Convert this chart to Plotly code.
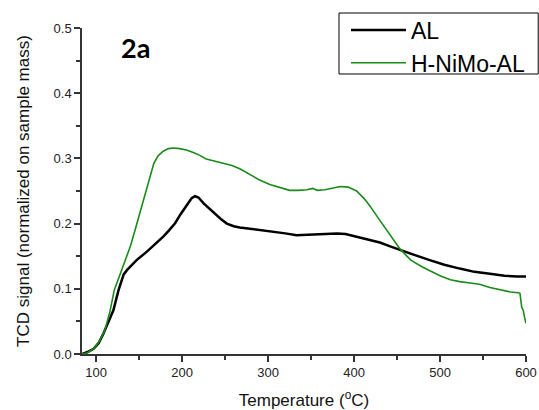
import plotly.graph_objects as go

# ---- data ----
al_temp = [84, 90, 97, 103, 108, 114, 120, 126, 129, 132, 136, 147, 159, 170, 178, 185, 192, 198,
           205, 211, 215, 219, 225, 236, 245, 252, 260, 267, 285, 302, 320, 333, 350, 365, 380,
           390, 400, 418, 430, 442, 454, 470, 488, 505, 523, 540, 558, 575, 590, 600]
al_signal = [0.0, 0.003, 0.008, 0.017, 0.030, 0.048, 0.067, 0.098, 0.112, 0.122, 0.129, 0.144,
             0.157, 0.170, 0.180, 0.190, 0.201, 0.214, 0.228, 0.239, 0.242, 0.240, 0.231, 0.217,
             0.207, 0.200, 0.196, 0.194, 0.191, 0.189, 0.185, 0.182, 0.183, 0.184, 0.185, 0.184,
             0.181, 0.175, 0.171, 0.165, 0.159, 0.152, 0.144, 0.137, 0.131, 0.126, 0.123, 0.120,
             0.119, 0.119]

nimo_temp = [84, 90, 97, 104, 110, 116, 121, 128, 134, 140, 145, 151, 157, 163, 167, 172, 178,
             184, 190, 197, 205, 213, 220, 228, 238, 248, 258, 267, 279, 290, 302, 313, 325, 335,
             345, 352, 357, 366, 375, 384, 393, 403, 412, 419, 430, 442, 453, 460, 466, 480, 490,
             500, 512, 523, 535, 546, 558, 570, 582, 591, 593, 595, 597, 598, 600]
nimo_signal = [0.0, 0.002, 0.008, 0.020, 0.036, 0.065, 0.098, 0.124, 0.143, 0.166, 0.189, 0.216,
               0.245, 0.273, 0.292, 0.304, 0.311, 0.315, 0.316, 0.315, 0.313, 0.309, 0.305, 0.299,
               0.296, 0.292, 0.289, 0.284, 0.275, 0.267, 0.260, 0.256, 0.251, 0.251, 0.252, 0.254,
               0.251, 0.252, 0.255, 0.257, 0.256, 0.250, 0.238, 0.226, 0.205, 0.183, 0.162, 0.152,
               0.144, 0.133, 0.126, 0.120, 0.114, 0.111, 0.109, 0.107, 0.102, 0.098, 0.095, 0.094,
               0.093, 0.072, 0.066, 0.058, 0.047]

series_names = ["AL", "H-NiMo-AL"]
panel_label = "2a"
x_ticks = [100, 200, 300, 400, 500, 600]
y_ticks = [0.0, 0.1, 0.2, 0.3, 0.4, 0.5]

FONT = "Liberation Sans, Arial, sans-serif"
AX = "#333333"

fig = go.Figure()
fig.add_trace(go.Scatter(x=al_temp, y=al_signal, mode="lines", name=series_names[0],
                         line=dict(color="#000000", width=2.5)))
fig.add_trace(go.Scatter(x=nimo_temp, y=nimo_signal, mode="lines", name=series_names[1],
                         line=dict(color="#1a8a1a", width=1.6)))

axis_common = dict(showline=True, linecolor=AX, linewidth=1.5, ticks="outside", ticklen=6,
                   tickwidth=1.5, tickcolor=AX, showgrid=False, zeroline=False, mirror=False,
                   tickfont=dict(family=FONT, size=13, color="#222222"))

fig.update_xaxes(range=[83.5, 600], tickvals=x_ticks, ticktext=[str(v) for v in x_ticks],
                 title=dict(text="Temperature (<sup>o</sup>C)", font=dict(family=FONT, size=17, color="#111111"),
                            standoff=16),
                 minor=dict(ticks="outside", ticklen=4, tickwidth=1.5, tickcolor=AX, dtick=50, tick0=0,
                            showgrid=False),
                 **axis_common)
fig.update_yaxes(range=[0, 0.5], tickvals=y_ticks, ticktext=[f"{v:.1f}" for v in y_ticks],
                 title=dict(text="TCD signal (normalized on sample mass)",
                            font=dict(family=FONT, size=17, color="#111111"), standoff=20),
                 minor=dict(ticks="outside", ticklen=4, tickwidth=1.5, tickcolor=AX, dtick=0.05, tick0=0,
                            showgrid=False),
                 **axis_common)

fig.add_annotation(text=f"<b>{panel_label}</b>", x=0.1205, y=0.94, xref="paper", yref="paper",
                   xanchor="center", yanchor="middle", showarrow=False,
                   font=dict(family="Lato, Open Sans, sans-serif", size=27, color="#000000"))

# legend frame
fig.add_shape(type="rect", xref="paper", yref="paper", x0=0.5788, x1=1.0275, y0=0.8589, y1=1.046,
              line=dict(color="#000000", width=1), fillcolor="rgba(0,0,0,0)", layer="above")

fig.update_layout(
    width=539, height=410,
    margin=dict(l=82, r=13, t=28, b=56, autoexpand=False),
    paper_bgcolor="white", plot_bgcolor="white",
    showlegend=True,
    legend=dict(x=0.5946, y=1.06, xanchor="left", yanchor="top",
                borderwidth=0, bgcolor="rgba(0,0,0,0)",
                tracegroupgap=0, itemwidth=55,
                font=dict(family=FONT, size=23, color="#000000")),
)

fig.write_html("out.html")
